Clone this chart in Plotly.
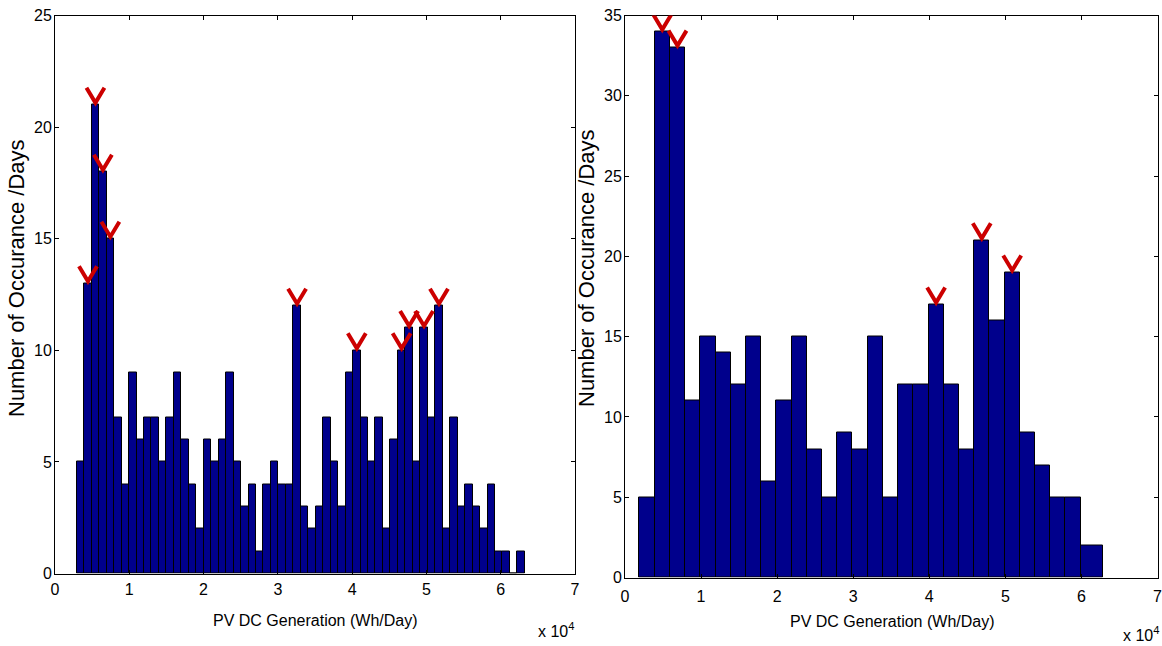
import plotly.graph_objects as go

# ---------------- data ----------------
# Left histogram: 60 equal bins between min and max generation (Wh/Day)
left_min_wh = 2930
left_max_wh = 63250
left_counts = [5, 13, 21, 18, 15, 7, 4, 9, 6, 7,
               7, 5, 7, 9, 6, 4, 2, 6, 5, 6,
               9, 5, 3, 4, 1, 4, 5, 4, 4, 12,
               3, 2, 3, 7, 5, 3, 9, 10, 7, 5,
               7, 2, 6, 10, 11, 5, 11, 7, 12, 2,
               7, 3, 4, 3, 2, 4, 1, 1, 0, 1]
left_peaks = [1, 2, 3, 4, 29, 37, 43, 44, 46, 48]   # bin indices marked

# Right histogram: bin edges (Wh/Day) and counts
right_edges = [1900, 3900, 5900, 7900, 9900, 11900, 13900, 15900, 17900, 19900,
               21900, 23900, 25900, 27900, 29900, 31900, 33900, 35900, 37900, 39900,
               41900, 43900, 45900, 47900, 49900, 51900, 53900, 55900, 57900, 59900,
               62800]
right_counts = [5, 34, 33, 11, 15, 14, 12, 15, 6, 11,
                15, 8, 5, 9, 8, 15, 5, 12, 12, 17,
                12, 8, 21, 16, 19, 9, 7, 5, 5, 2]
right_peaks = [1, 2, 19, 22, 24]

x_tick_vals = [0, 10000, 20000, 30000, 40000, 50000, 60000, 70000]
x_tick_text = ["0", "1", "2", "3", "4", "5", "6", "7"]
left_y_ticks = [0, 5, 10, 15, 20, 25]
right_y_ticks = [0, 5, 10, 15, 20, 25, 30, 35]

x_title = "PV DC Generation (Wh/Day)"
y_title = "Number of Occurance /Days"
x_scale_note = "x 10<sup>4</sup>"

# ---------------- derived bins ----------------
n_left = len(left_counts)
lw = (left_max_wh - left_min_wh) / n_left
left_centers = [left_min_wh + (i + 0.5) * lw for i in range(n_left)]
left_widths = [lw] * n_left

right_centers = [(right_edges[i] + right_edges[i + 1]) / 2 for i in range(len(right_counts))]
right_widths = [right_edges[i + 1] - right_edges[i] for i in range(len(right_counts))]

# ---------------- figure ----------------
W, H = 1162, 646
FONT = "Liberation Sans, Arial, Helvetica, sans-serif"
BAR_COLOR = "rgb(0,0,140)"
PEAK_COLOR = "rgb(204,0,0)"

fig = go.Figure()
fig.add_trace(go.Bar(x=left_centers, y=left_counts, width=left_widths,
                     marker=dict(color=BAR_COLOR, line=dict(color="black", width=1)),
                     xaxis="x", yaxis="y", showlegend=False, hoverinfo="skip"))
fig.add_trace(go.Bar(x=right_centers, y=right_counts, width=right_widths,
                     marker=dict(color=BAR_COLOR, line=dict(color="black", width=1)),
                     xaxis="x2", yaxis="y2", showlegend=False, hoverinfo="skip"))


def px(xp):
    return xp / W


def py(yp):
    return 1 - yp / H


axis_common = dict(showline=True, linecolor="black", linewidth=1, mirror="ticks",
                   ticks="inside", ticklen=4, tickwidth=1, tickcolor="black",
                   showgrid=False, zeroline=False, automargin=False,
                   ticklabeloverflow="allow",
                   tickfont=dict(family=FONT, size=16, color="black"))

fig.update_layout(
    width=W, height=H,
    margin=dict(l=0, r=0, t=0, b=0),
    paper_bgcolor="white", plot_bgcolor="white",
    bargap=0, barmode="overlay",
    xaxis=dict(domain=[px(55), px(575)], range=[0, 70000], tickvals=x_tick_vals,
               ticktext=x_tick_text, anchor="y", ticklabelstandoff=1, **axis_common),
    yaxis=dict(domain=[py(573.5), py(15.5)], range=[0, 25], tickvals=left_y_ticks,
               anchor="x", ticklabelstandoff=-1, **axis_common),
    xaxis2=dict(domain=[px(625), px(1157.5)], range=[0, 70000], tickvals=x_tick_vals,
                ticktext=x_tick_text, anchor="y2", ticklabelstandoff=4, **axis_common),
    yaxis2=dict(domain=[py(577.5), py(15.5)], range=[0, 35], tickvals=right_y_ticks,
                anchor="x2", ticklabelstandoff=-1, **axis_common),
)

# peak chevrons: pixel-sized V paths anchored on the bar tops
CHEVRON = "M-9,17 L0,2 L9,17"
shapes = []
for i in left_peaks:
    shapes.append(dict(type="path", xref="x", yref="y", xsizemode="pixel", ysizemode="pixel",
                       xanchor=left_centers[i], yanchor=left_counts[i], path=CHEVRON,
                       line=dict(color=PEAK_COLOR, width=4), layer="above"))
for i in right_peaks:
    shapes.append(dict(type="path", xref="x2", yref="y2", xsizemode="pixel", ysizemode="pixel",
                       xanchor=right_centers[i], yanchor=right_counts[i], path=CHEVRON,
                       line=dict(color=PEAK_COLOR, width=4), layer="above"))
fig.update_layout(shapes=shapes)

annotations = [
    dict(x=px(315), y=py(620), text=x_title, textangle=0, size=16),
    dict(x=px(892), y=py(621), text=x_title, textangle=0, size=16),
    dict(x=px(16), y=py(278), text=y_title, textangle=-90, size=22),
    dict(x=px(586), y=py(268), text=y_title, textangle=-90, size=22),
    dict(x=px(556), y=py(630), text=x_scale_note, textangle=0, size=16),
    dict(x=px(1141), y=py(634), text=x_scale_note, textangle=0, size=16),
]
fig.update_layout(annotations=[
    dict(x=a["x"], y=a["y"], xref="paper", yref="paper", text=a["text"],
         textangle=a["textangle"], showarrow=False, xanchor="center", yanchor="middle",
         font=dict(family=FONT, size=a["size"], color="black"))
    for a in annotations
])

# remove the page's default margin / scrollbars so the figure fills the window exactly
PAGE_FIX = ("document.documentElement.style.margin='0';"
            "document.documentElement.style.overflow='hidden';"
            "document.body.style.margin='0';"
            "document.body.style.overflow='hidden';")

fig.write_html("out.html", post_script=PAGE_FIX, config={"displayModeBar": False})
